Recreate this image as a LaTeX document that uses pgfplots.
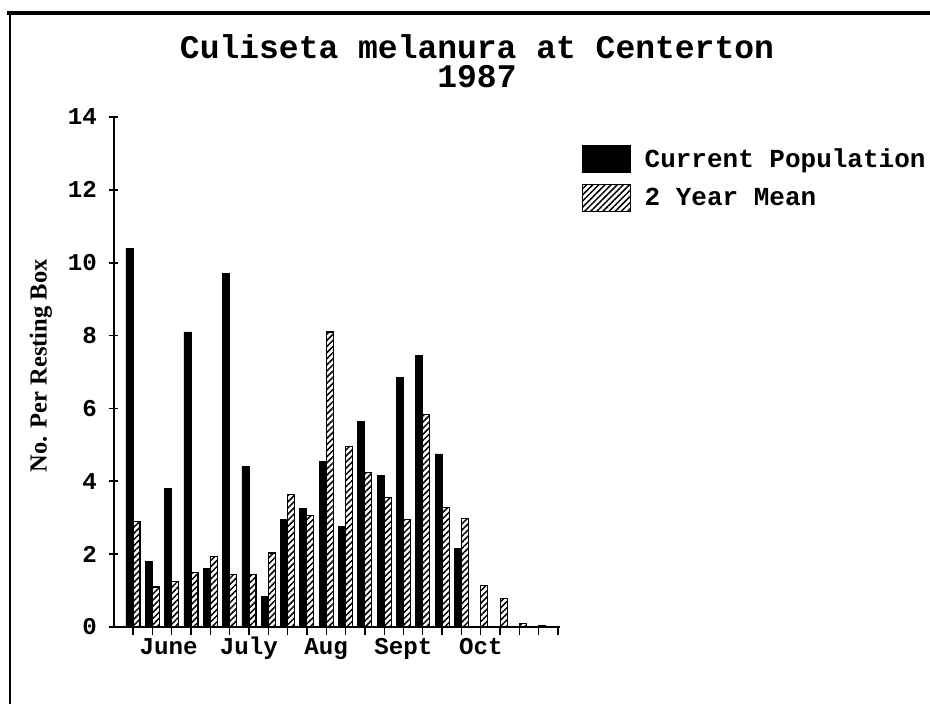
\documentclass[border=0pt]{standalone}
\usepackage{fontspec}
\setmainfont{Liberation Serif}
\setmonofont{Liberation Mono}
\usepackage{pgfplots}
\pgfplotsset{compat=1.18}
\usetikzlibrary{patterns.meta}

\newcommand{\cf}[1]{\fontsize{#1}{#1}\selectfont\ttfamily\bfseries}

\pgfplotsset{boxlegend/.style={legend image code/.code={\draw[##1] (0pt,-8pt) rectangle (28.8pt,8pt);}}}

\pgfplotstableread{
x cur
1 10.4
2 1.8
3 3.8
4 8.1
5 1.6
6 9.7
7 4.4
8 0.85
9 2.95
10 3.25
11 4.55
12 2.75
13 5.65
14 4.15
15 6.85
16 7.45
17 4.75
18 2.15
}\curtab

\pgfplotstableread{
x mean
1 2.9
2 1.1
3 1.25
4 1.5
5 1.93
6 1.44
7 1.44
8 2.03
9 3.64
10 3.05
11 8.1
12 4.95
13 4.25
14 3.55
15 2.95
16 5.84
17 3.27
18 2.97
19 1.15
20 0.78
21 0.09
22 0.05
}\meantab

\begin{document}
\begin{tikzpicture}
\path[use as bounding box] (0,0) rectangle (558pt,422.4pt);
\draw[line width=2pt] (4.2pt,414.6pt) -- (558pt,414.6pt);
\draw[line width=1.2pt] (6pt,415.6pt) -- (6pt,0pt);
\node[font={\fontsize{19.8}{17.4}\selectfont\ttfamily\bfseries}, align=center, anchor=base, inner sep=0pt]
  at (286.2pt,369.6pt) {Culiseta melanura at Centerton\\1987};
\begin{axis}[
  at={(68.2pt,46.2pt)}, anchor=south west,
  scale only axis, width=267.8pt, height=306pt,
  xmin=0, xmax=23.1, ymin=0, ymax=14,
  axis lines=left, axis line style={-, line width=1.2pt},
  ytick={0,2,...,14}, xtick={1,...,23}, xticklabels={},
  extra x ticks={2.85,7,11,15,19},
  extra x tick labels={June,July,Aug,Sept,Oct},
  extra x tick style={major tick length=0pt,
    xticklabel style={yshift=-3pt, text height=10pt, text depth=3pt}},
  tick align=center, major tick length=5pt,
  x tick style={line width=0.8pt, black},
  y tick style={line width=1pt, black},
  /pgf/number format/assume math mode=true,
  ticklabel style={font=\cf{14.5}},
  yticklabel style={xshift=-4pt},
  ylabel={No. Per Resting Box},
  ylabel style={at={(axis description cs:-0.163,0.512)}, anchor=center,
    font=\rmfamily\bfseries\fontsize{14.7}{14.7}\selectfont},
  ybar=0pt, bar width=4.2pt,
  legend style={at={(axis description cs:1.049,0.945)}, anchor=north west,
    draw=none, fill=none, inner sep=0pt, row sep=6.6pt,
    font=\cf{15.6}, nodes={inner sep=0pt},
    /tikz/every odd column/.append style={column sep=8pt}},
  legend cell align=left,
]
\addplot[boxlegend, fill=black, draw=black, line width=0.5pt] table[x=x, y=cur] {\curtab};
\addlegendentry{Current Population}
\addplot[boxlegend, draw=black, line width=0.7pt,
  pattern={Lines[angle=45, distance=2.6pt, line width=0.9pt]}] table[x=x, y=mean] {\meantab};
\addlegendentry{2 Year Mean}
\end{axis}
\end{tikzpicture}
\end{document}
